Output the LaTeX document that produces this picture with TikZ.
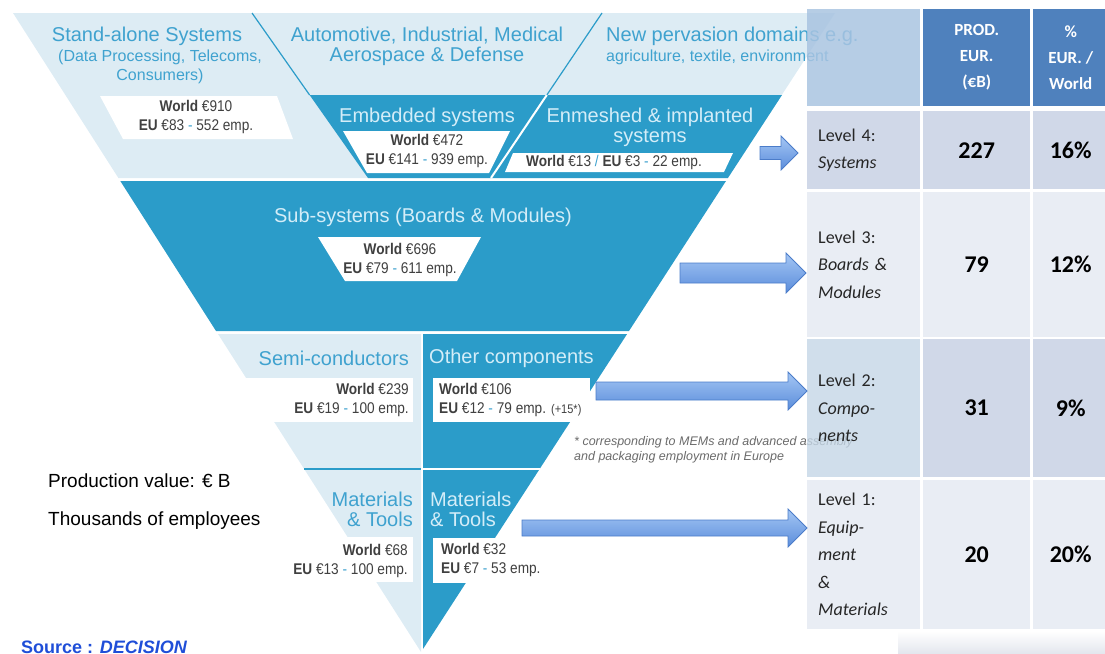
\documentclass[tikz,border=0pt]{standalone}
\usepackage{fontspec}
\setmainfont{Liberation Sans}
\newfontfamily\calibri{Carlito}
\newfontfamily\narrowsans[FakeStretch=0.88]{Liberation Sans}

\definecolor{funneldark}{HTML}{2B9CC9}
\definecolor{funnellight}{HTML}{DDECF4}
\definecolor{labellight}{HTML}{3FA2CF}
\definecolor{labeldark}{HTML}{D4EDF8}
\definecolor{hdrblue}{HTML}{4F81BD}
\definecolor{hdrpale}{HTML}{A9C4E1}
\definecolor{rowdark}{HTML}{D0D8E8}
\definecolor{rowpale}{HTML}{E9EDF4}
\definecolor{rowblue}{HTML}{C4D6E6}
\definecolor{arrowtop}{HTML}{A4C6F4}
\definecolor{arrowbot}{HTML}{5B8DDB}
\definecolor{arrowedge}{HTML}{4B7CC9}
\definecolor{srcblue}{HTML}{1F4ED8}
\definecolor{notegray}{HTML}{6A6A6A}
\definecolor{barshade}{HTML}{E4E7EE}

\newcommand\bluedash{\textcolor{labellight}{-}}

\tikzset{
  lvllabel/.style={font=\fontsize{20}{20}\selectfont, inner sep=0pt},
  onlight/.style={lvllabel, text=labellight},
  ondark/.style={lvllabel, text=labeldark},
  figures/.style={font=\narrowsans\fontsize{15.5}{18.5}\selectfont, text=black!75, inner sep=0pt},
  hdrcell/.style={anchor=north west, inner sep=0pt, fill=hdrblue, text=white, align=center,
    minimum height=97pt, font=\calibri\bfseries\fontsize{17}{26}\selectfont},
  lvlcell/.style={anchor=north west, inner xsep=11pt, inner ysep=0pt, text width=91pt, align=left,
    font=\calibri\fontsize{18}{27.5}\selectfont, text=black!85},
  numcell/.style={anchor=north west, inner sep=0pt, font=\calibri\bfseries\fontsize{24}{24}\selectfont},
  blockarrow/.style={draw=arrowedge, line width=0.8pt, top color=arrowtop, bottom color=arrowbot}
}

\begin{document}
\begin{tikzpicture}[x=1pt,y=-1pt]
\useasboundingbox (0,0) rectangle (1105,653);

% level 4 band
\fill[funnellight] (13,13) -- (835,13) -- (727.9,178) -- (118.4,178) -- cycle;
\fill[funneldark] (309.6,95) -- (782,95) -- (727.9,178) -- (368,178) -- cycle;
\draw[funneldark, line width=1.2pt] (252,13) -- (309.6,95);
\draw[funneldark, line width=1.2pt] (602,13) -- (546.8,95);
\draw[white, line width=2pt] (546.8,95) -- (491,178);
% level 3 band
\fill[funneldark] (120.3,181) -- (726,181) -- (629,331) -- (216,331) -- cycle;
% levels 2 and 1
\fill[funnellight] (218,334) -- (421,334) -- (421,652) -- cycle;
\fill[funneldark] (423,334) -- (627.1,334) -- (423,649) -- cycle;
\draw[funneldark, line width=1.2pt] (304.2,469) -- (421,469);
\draw[white, line width=2pt] (423,469) -- (539.6,469);

% white value boxes
\fill[white] (100,96) -- (277,96) -- (293,139) -- (123,139) -- cycle;
\fill[white] (343,131) -- (510,131) -- (489,173) -- (367,173) -- cycle;
\fill[white] (513,153) -- (733,153) -- (724,172) -- (505,172) -- cycle;
\fill[white] (318,237) -- (481,237) -- (457,281) -- (345,281) -- cycle;
\fill[white] (230,378) rectangle (413,422);
\fill[white] (433,378) rectangle (590,422);
\fill[white] (330,537) rectangle (413,582);
\fill[white] (433,538) rectangle (520,583);

% segment names
\node[onlight] (standalone) at (147,36) {Stand-alone Systems};
\node[onlight, font=\fontsize{16}{19}\selectfont, align=center] (standalonesub) at (160,67) {(Data Processing, Telecoms,\\Consumers)};
\node[onlight, align=center] (automotive) at (427,46) {Automotive, Industrial, Medical\\Aerospace \& Defense};
\node[onlight, anchor=west] (pervasion) at (606,36) {New pervasion domains e.g.};
\node[onlight, anchor=west, font=\fontsize{16}{16}\selectfont] (pervasionsub) at (606,57) {agriculture, textile, environment};
\node[ondark] (embedded) at (427,117) {Embedded systems};
\node[ondark, align=center] (enmeshed) at (650,127) {Enmeshed \& implanted\\systems};
\node[ondark] (subsys) at (423,217) {Sub-systems (Boards \& Modules)};
\node[onlight, anchor=east] (semi) at (409,358) {Semi-conductors};
\node[ondark, anchor=west] (othercomp) at (429,358) {Other components};
\node[onlight, anchor=east, align=right] (mattoolsL) at (413,509) {Materials\\\& Tools};
\node[ondark, anchor=west, align=left] (mattoolsR) at (430,509) {Materials\\\& Tools};

% production values
\node[figures, align=center] (standaloneval) at (196,117) {\textbf{World} €910\\\textbf{EU} €83 \bluedash{} 552 emp.};
\node[figures, align=center] (embeddedval) at (427,151) {\textbf{World} €472\\\textbf{EU} €141 \bluedash{} 939 emp.};
\node[figures] (enmeshedval) at (614,162) {\textbf{World} €13 \textcolor{labellight}{/} \textbf{EU} €3 \bluedash{} 22 emp.};
\node[figures, align=center] (subsysval) at (400,260) {\textbf{World} €696\\\textbf{EU} €79 \bluedash{} 611 emp.};
\node[figures, anchor=east, align=right] (semival) at (409,400) {\textbf{World} €239\\\textbf{EU} €19 \bluedash{} 100 emp.};
\node[figures, anchor=west, align=left] (othercompval) at (439,400) {\textbf{World} €106\\\textbf{EU} €12 \bluedash{} 79 emp. {\fontsize{12.5}{12}\selectfont(+15*)}};
\node[figures, anchor=east, align=right] (mattoolsLval) at (408,561) {\textbf{World} €68\\\textbf{EU} €13 \bluedash{} 100 emp.};
\node[figures, anchor=west, align=left] (mattoolsRval) at (441,560) {\textbf{World} €32\\\textbf{EU} €7 \bluedash{} 53 emp.};

\node[anchor=west, align=left, inner sep=0pt, text=notegray, font=\itshape\fontsize{12.5}{15}\selectfont] (footnote) at (574,450)
  {* corresponding to MEMs and advanced assembly\\and packaging employment in Europe};

\node[anchor=west, inner sep=0pt, font=\fontsize{19}{19}\selectfont] (prodval) at (48,481) {Production value: € B};
\node[anchor=west, inner sep=0pt, font=\fontsize{19}{19}\selectfont] (employees) at (48,521) {Thousands of employees};
\node[anchor=base west, inner sep=0pt, text=srcblue, font=\bfseries\fontsize{18}{18}\selectfont] (source) at (21,653) {Source : \textit{DECISION}};

% table
\node[anchor=north west, inner sep=0pt, fill=hdrpale, fill opacity=0.85, minimum width=113pt, minimum height=97pt] (hdrlevel) at (807,9) {};
\node[hdrcell, minimum width=107pt] (hdrprod) at (923,9) {PROD.\\EUR.\\(€B)};
\node[hdrcell, minimum width=75pt] (hdrshare) at (1033,9) {\%\\EUR. /\\World};

\node[lvlcell, fill=rowdark, minimum height=78pt] (lvl4) at (807,111) {Level 4:\\\textit{Systems}};
\node[numcell, fill=rowdark, minimum width=107pt, minimum height=78pt] (prod4) at (923,111) {227};
\node[numcell, fill=rowdark, minimum width=75pt, minimum height=78pt] (share4) at (1033,111) {16\%};

\node[lvlcell, fill=rowpale, minimum height=145pt] (lvl3) at (807,192) {Level 3:\\\textit{Boards \&}\\\textit{Modules}};
\node[numcell, fill=rowpale, minimum width=107pt, minimum height=145pt] (prod3) at (923,192) {79};
\node[numcell, fill=rowpale, minimum width=75pt, minimum height=145pt] (share3) at (1033,192) {12\%};

\node[lvlcell, fill=rowblue, fill opacity=0.8, text opacity=1, minimum height=138pt] (lvl2) at (807,339) {Level 2:\\\textit{Compo-}\\\textit{nents}};
\node[numcell, fill=rowdark, minimum width=107pt, minimum height=138pt] (prod2) at (923,339) {31};
\node[numcell, fill=rowdark, minimum width=75pt, minimum height=138pt] (share2) at (1033,339) {9\%};

\node[lvlcell, fill=rowpale, minimum height=149pt] (lvl1) at (807,480) {Level 1:\\\textit{Equip-}\\\textit{ment}\\\textit{\&}\\\textit{Materials}};
\node[numcell, fill=rowpale, minimum width=107pt, minimum height=149pt] (prod1) at (923,480) {20};
\node[numcell, fill=rowpale, minimum width=75pt, minimum height=149pt] (share1) at (1033,480) {20\%};

\fill[top color=white, bottom color=barshade] (898,631) rectangle (1105,653);

% arrows from the funnel to the levels
\foreach \xa/\xb/\yc/\ws/\wh/\hl in {760/798/153/6.5/17/17, 680/806/273/10/20/20, 596/807/391/9/19/19, 522/807/528/8/19/19}
  \draw[blockarrow] (\xa,\yc-\ws) -- (\xb-\hl,\yc-\ws) -- (\xb-\hl,\yc-\wh) -- (\xb,\yc)
    -- (\xb-\hl,\yc+\wh) -- (\xb-\hl,\yc+\ws) -- (\xa,\yc+\ws) -- cycle;
\end{tikzpicture}
\end{document}
